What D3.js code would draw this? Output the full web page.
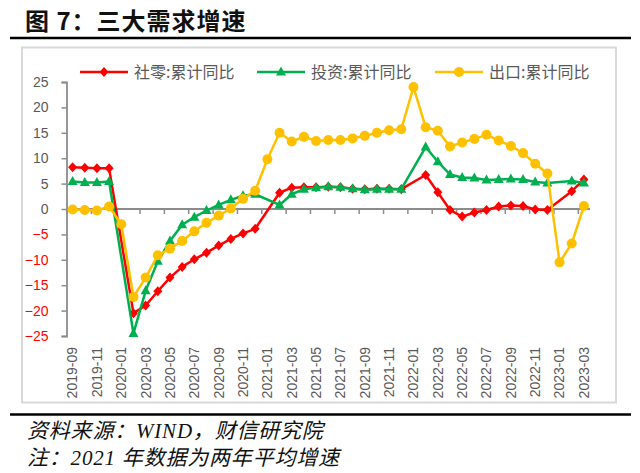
<!DOCTYPE html>
<html><head><meta charset="utf-8">
<script src="https://cdn.jsdelivr.net/npm/d3@7"></script>
<style>
html,body{margin:0;padding:0;background:#fff;}
svg{display:block;}
</style></head>
<body>
<svg id="c" width="640" height="473"></svg>
<script>
// ---- data ----
const categories = [
"2019-09","2019-10","2019-11","2019-12",
"2020-01","2020-02","2020-03","2020-04","2020-05","2020-06","2020-07","2020-08","2020-09","2020-10","2020-11","2020-12",
"2021-01","2021-02","2021-03","2021-04","2021-05","2021-06","2021-07","2021-08","2021-09","2021-10","2021-11","2021-12",
"2022-01","2022-02","2022-03","2022-04","2022-05","2022-06","2022-07","2022-08","2022-09","2022-10","2022-11","2022-12",
"2023-01","2023-02","2023-03"];
const retail = [8.2,8.1,8.0,8.0,
 null,-20.5,-19.0,-16.2,-13.5,-11.4,-9.9,-8.6,-7.2,-5.9,-4.8,-3.9,
 null,3.2,4.2,4.3,4.3,4.4,4.3,4.0,3.9,4.0,4.0,3.9,
 null,6.7,3.3,-0.2,-1.5,-0.7,-0.2,0.5,0.7,0.6,-0.1,-0.2,
 null,3.5,5.8];
const invest = [5.4,5.2,5.2,5.4,
 null,-24.5,-16.1,-10.3,-6.3,-3.1,-1.6,-0.3,0.8,1.8,2.6,2.9,
 null,0.8,2.9,3.9,4.2,4.4,4.3,4.0,3.8,3.9,3.9,3.9,
 null,12.2,9.3,6.8,6.2,6.1,5.7,5.8,5.9,5.8,5.3,5.1,
 null,5.5,5.1];
const exportsV = [-0.1,-0.2,-0.3,0.5,
 -3.0,-17.3,-13.5,-9.1,-7.8,-6.3,-4.4,-2.7,-1.3,0.1,2.0,3.6,
 9.8,15.0,13.3,14.2,13.4,13.6,13.6,13.9,14.4,15.0,15.5,15.7,
 24.0,16.1,15.4,12.3,13.1,13.8,14.6,13.5,12.4,11.0,8.9,7.0,
 -10.5,-6.8,0.6];
const seriesNames = ["社零:累计同比","投资:累计同比","出口:累计同比"];
const yTicks = [-25,-20,-15,-10,-5,0,5,10,15,20,25];
const titleText = "图 7：三大需求增速";
const sourceText = "资料来源：WIND，财信研究院";
const noteText = "注：2021 年数据为两年平均增速";

// ---- drawing ----
const svg = d3.select("#c");
const axisColor = "#8c8c8c", textColor = "#595959";
const n = categories.length;
const x = d3.scaleLinear().domain([-0.5, n - 0.5]).range([66.5, 590]);
const y = d3.scaleLinear().domain([-25, 25]).range([336, 82]);

// title
svg.append("text").attr("x", 25).attr("y", 30)
  .attr("font-family", "'Noto Sans CJK SC'").attr("font-weight", 700)
  .attr("font-size", 24).attr("letter-spacing", 1).attr("fill", "#111").text(titleText);
svg.append("line").attr("x1", 10).attr("x2", 631).attr("y1", 38).attr("y2", 38)
  .attr("stroke", "#000").attr("stroke-width", 2.7);

// chart frame
svg.append("rect").attr("x", 22).attr("y", 47.5).attr("width", 594).attr("height", 355)
  .attr("fill", "none").attr("stroke", "#d9d9d9").attr("stroke-width", 2);

// bottom rule + source
svg.append("line").attr("x1", 10).attr("x2", 631).attr("y1", 414.5).attr("y2", 414.5)
  .attr("stroke", "#000").attr("stroke-width", 2.7);
const srcFont = "'Liberation Serif','Noto Sans CJK SC'";
svg.append("text").attr("x", 27).attr("y", 438).attr("font-family", srcFont)
  .attr("font-style", "italic").attr("font-size", 21).attr("letter-spacing", 0.8)
  .attr("fill", "#111").text(sourceText);
svg.append("text").attr("x", 27).attr("y", 465).attr("font-family", srcFont)
  .attr("font-style", "italic").attr("font-size", 21).attr("letter-spacing", 0.8)
  .attr("fill", "#111").text(noteText);

// y axis
const yAxis = svg.append("g").attr("transform", `translate(${x(-0.5)},0)`)
  .call(d3.axisLeft(y).tickValues(yTicks).tickSize(5).tickPadding(13).tickFormat(d3.format("d")));
yAxis.select(".domain").attr("stroke", axisColor).attr("stroke-width", 1.8);
yAxis.selectAll(".tick line").attr("stroke", axisColor).attr("stroke-width", 1.5);
yAxis.selectAll(".tick text").attr("font-family", "'Liberation Sans'").attr("font-size", 14)
  .attr("fill", d => d < 0 ? "#ff0000" : textColor);

// x axis (category boundaries every 2 months)
const xTickVals = d3.range(-0.5, n, 2);
const xAxis = svg.append("g").attr("transform", `translate(0,${y(0)})`)
  .call(d3.axisBottom(x).tickValues(xTickVals).tickSize(5).tickFormat(""));
xAxis.select(".domain").attr("stroke", axisColor).attr("stroke-width", 1.8)
  .attr("d", `M${x(-0.5)},0H${x(n - 0.5)}`);
xAxis.selectAll(".tick line").attr("stroke", axisColor).attr("stroke-width", 1.5);

// x labels (low position, rotated)
svg.append("g").selectAll("text")
  .data(categories.map((c, i) => ({c, i})).filter(d => d.i % 2 === 0))
  .join("text")
  .attr("transform", d => `translate(${x(d.i)},347) rotate(-90)`)
  .attr("text-anchor", "end").attr("dy", "0.35em")
  .attr("font-family", "'Liberation Sans'").attr("font-size", 14).attr("fill", textColor)
  .text(d => d.c);

// markers
const markers = {
  diamond: (g, cx, cy, col) => g.append("path")
    .attr("d", `M${cx},${cy-5}L${cx+4.5},${cy}L${cx},${cy+5}L${cx-4.5},${cy}Z`).attr("fill", col),
  triangle: (g, cx, cy, col) => g.append("path")
    .attr("d", `M${cx},${cy-5.5}L${cx+5},${cy+3.5}L${cx-5},${cy+3.5}Z`).attr("fill", col),
  circle: (g, cx, cy, col) => g.append("circle").attr("cx", cx).attr("cy", cy).attr("r", 5).attr("fill", col)
};
const series = [
  {name: seriesNames[0], values: retail, color: "#ff0000", marker: "diamond"},
  {name: seriesNames[1], values: invest, color: "#00b050", marker: "triangle"},
  {name: seriesNames[2], values: exportsV, color: "#ffc000", marker: "circle"}
];
const line = d3.line().x(d => x(d.i)).y(d => y(d.v));
series.forEach(s => {
  const pts = s.values.map((v, i) => ({v, i})).filter(d => d.v !== null);
  const g = svg.append("g");
  g.append("path").attr("d", line(pts)).attr("fill", "none")
    .attr("stroke", s.color).attr("stroke-width", 2.5).attr("stroke-linejoin", "round");
  pts.forEach(d => markers[s.marker](g, x(d.i), y(d.v), s.color));
});

// legend
const legX = [80, 257, 435];
series.forEach((s, k) => {
  const g = svg.append("g");
  const lx = legX[k], ly = 72;
  g.append("line").attr("x1", lx).attr("x2", lx + 48).attr("y1", ly).attr("y2", ly)
    .attr("stroke", s.color).attr("stroke-width", 2.5);
  markers[s.marker](g, lx + 24, ly, s.color);
  g.append("text").attr("x", lx + 54).attr("y", ly).attr("dy", "0.35em")
    .attr("font-family", "'Noto Sans CJK SC'").attr("font-size", 16).attr("fill", textColor)
    .text(s.name);
});
</script>
</body></html>
